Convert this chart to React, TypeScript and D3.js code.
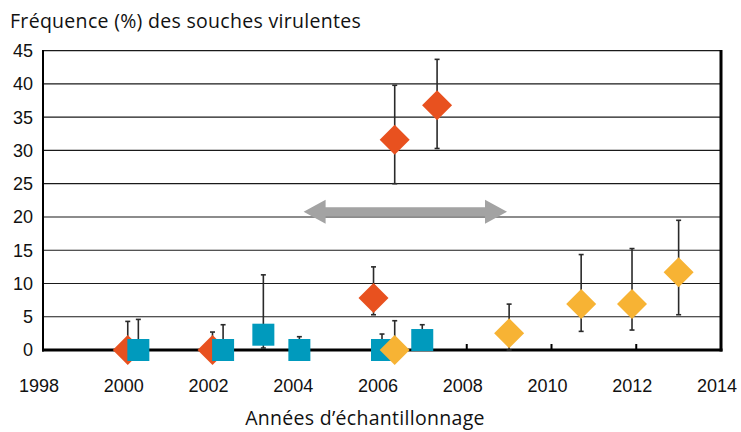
import { useEffect, useRef } from 'react';
import * as d3 from 'd3';

// sampling years and virulent strain frequency (%) per series
const orangeYears = [2000.0, 2002.0, 2005.8, 2006.3, 2007.3];
const orangeValues = [0, 0, 7.8, 31.6, 36.8];
const orangeLow = [0, 0, 5.3, 25.0, 30.3];
const orangeHigh = [4.3, 2.7, 12.5, 39.8, 43.7];

const blueYears = [2000.25, 2002.25, 2003.2, 2004.05, 2006.0, 2006.95];
const blueValues = [0, 0, 2.3, 0, 0, 1.5];
const blueLow = [0, 0, 0.3, 0, 0, 1.5];
const blueHigh = [4.6, 3.8, 11.3, 2.0, 2.4, 3.8];

const yellowYears = [2006.3, 2009.0, 2010.7, 2011.9, 2013.0];
const yellowValues = [0, 2.5, 6.9, 6.9, 11.7];
const yellowLow = [0, 0, 2.8, 3.0, 5.3];
const yellowHigh = [4.4, 6.9, 14.35, 15.25, 19.5];

// double arrow: period span and level
const arrowYears = [2004.15, 2008.95];
const arrowLevel = 20.8;

const xTicks = [1998, 2000, 2002, 2004, 2006, 2008, 2010, 2012, 2014];
const yTicks = [0, 5, 10, 15, 20, 25, 30, 35, 40, 45];

const ORANGE = '#e8511f';
const BLUE = '#009abd';
const YELLOW = '#f7b334';
const FONT = '"Liberation Sans", Arial, sans-serif';
const TITLE_FONT = '"Open Sans", "Liberation Sans", sans-serif';

type Pt = { x: number; y: number; lo: number; hi: number };

function zip(xs: number[], ys: number[], lo: number[], hi: number[]): Pt[] {
  return xs.map((x, i) => ({ x, y: ys[i], lo: lo[i], hi: hi[i] }));
}

export default function App() {
  const svgRef = useRef<SVGSVGElement>(null);

  useEffect(() => {
    const svg = d3.select(svgRef.current);
    svg.selectAll('*').remove();

    const width = 741;
    const height = 432;
    const left = 43;
    const right = 721;
    const top = 50.7;
    const bottom = 350;

    const x = d3.scaleLinear().domain([1998, 2014]).range([left, right]);
    const y = d3.scaleLinear().domain([0, 45]).range([bottom, top]);

    svg.attr('width', width).attr('height', height);

    // title
    svg.append('text')
      .attr('x', 10)
      .attr('y', 28)
      .attr('font-family', TITLE_FONT)
      .attr('font-size', 19.5)
      .attr('letter-spacing', 0.3)
      .attr('fill', '#111')
      .text('Fréquence (%) des souches virulentes');

    // gridlines
    svg.append('g')
      .selectAll('line')
      .data(yTicks.filter(d => d > 0))
      .join('line')
      .attr('x1', left)
      .attr('x2', right)
      .attr('y1', d => y(d))
      .attr('y2', d => y(d))
      .attr('stroke', '#1a1a1a')
      .attr('stroke-width', 1.2);

    // right border
    svg.append('line')
      .attr('x1', right).attr('x2', right)
      .attr('y1', top - 0.6).attr('y2', bottom + 1.5)
      .attr('stroke', '#000')
      .attr('stroke-width', 3);

    // left axis
    svg.append('line')
      .attr('x1', left).attr('x2', left)
      .attr('y1', top - 0.6).attr('y2', bottom + 1.5)
      .attr('stroke', '#000')
      .attr('stroke-width', 2);

    // y labels
    svg.append('g')
      .selectAll('text')
      .data(yTicks)
      .join('text')
      .attr('x', 33)
      .attr('y', d => y(d))
      .attr('dy', '0.36em')
      .attr('text-anchor', 'end')
      .attr('font-family', FONT)
      .attr('font-size', 18)
      .attr('fill', '#111')
      .text(d => d);

    // x axis line + ticks
    svg.append('line')
      .attr('x1', left - 1).attr('x2', right + 1.5)
      .attr('y1', bottom).attr('y2', bottom)
      .attr('stroke', '#000')
      .attr('stroke-width', 3);

    svg.append('g')
      .selectAll('line')
      .data(xTicks)
      .join('line')
      .attr('x1', d => x(d))
      .attr('x2', d => x(d))
      .attr('y1', bottom)
      .attr('y2', bottom - 6)
      .attr('stroke', '#000')
      .attr('stroke-width', 2);

    svg.append('g')
      .selectAll('text')
      .data(xTicks)
      .join('text')
      .attr('x', d => x(d) - 4)
      .attr('y', 392)
      .attr('text-anchor', 'middle')
      .attr('font-family', FONT)
      .attr('font-size', 18)
      .attr('fill', '#111')
      .text(d => d);

    svg.append('text')
      .attr('x', 365)
      .attr('y', 425)
      .attr('text-anchor', 'middle')
      .attr('font-family', TITLE_FONT)
      .attr('font-size', 19.5)
      .attr('letter-spacing', 0.3)
      .attr('fill', '#111')
      .text('Années d\u2019échantillonnage');

    // double arrow
    const ax1 = x(arrowYears[0]);
    const ax2 = x(arrowYears[1]);
    const ay = y(arrowLevel);
    const head = 22;
    const hh = 12;
    const bh = 4.5;
    svg.append('path')
      .attr('d', [
        `M${ax1},${ay}`,
        `L${ax1 + head},${ay - hh}`,
        `L${ax1 + head},${ay - bh}`,
        `L${ax2 - head},${ay - bh}`,
        `L${ax2 - head},${ay - hh}`,
        `L${ax2},${ay}`,
        `L${ax2 - head},${ay + hh}`,
        `L${ax2 - head},${ay + bh}`,
        `L${ax1 + head},${ay + bh}`,
        `L${ax1 + head},${ay + hh}`,
        'Z',
      ].join(''))
      .attr('fill', '#a3a3a3');

    const series = [
      { pts: zip(orangeYears, orangeValues, orangeLow, orangeHigh), color: ORANGE, shape: 'diamond' },
      { pts: zip(blueYears, blueValues, blueLow, blueHigh), color: BLUE, shape: 'square' },
      { pts: zip(yellowYears, yellowValues, yellowLow, yellowHigh), color: YELLOW, shape: 'diamond' },
    ];

    // error bars first
    const eb = svg.append('g').attr('stroke', '#2a2a2a').attr('stroke-width', 1.6);
    series.forEach(s => {
      s.pts.forEach(p => {
        const cx = x(p.x);
        eb.append('line')
          .attr('x1', cx).attr('x2', cx)
          .attr('y1', y(p.hi)).attr('y2', y(p.lo));
        [p.hi, p.lo].forEach(v => {
          if (v === p.y) return;
          eb.append('line')
            .attr('x1', cx - 2.5).attr('x2', cx + 2.5)
            .attr('y1', y(v)).attr('y2', y(v));
        });
      });
    });

    // markers
    series.forEach(s => {
      const g = svg.append('g');
      if (s.shape === 'diamond') {
        const r = 15;
        g.selectAll('path')
          .data(s.pts)
          .join('path')
          .attr('d', d => {
            const cx = x(d.x);
            const cy = y(d.y);
            return `M${cx},${cy - r}L${cx + r},${cy}L${cx},${cy + r}L${cx - r},${cy}Z`;
          })
          .attr('fill', s.color);
      } else {
        const side = 22;
        g.selectAll('rect')
          .data(s.pts)
          .join('rect')
          .attr('x', d => x(d.x) - side / 2)
          .attr('y', d => y(d.y) - side / 2)
          .attr('width', side)
          .attr('height', side)
          .attr('fill', s.color);
      }
    });
  }, []);

  return (
    <div style={{ position: 'absolute', left: 0, top: 0, background: '#fff' }}>
      <svg ref={svgRef} style={{ display: 'block' }} />
    </div>
  );
}
